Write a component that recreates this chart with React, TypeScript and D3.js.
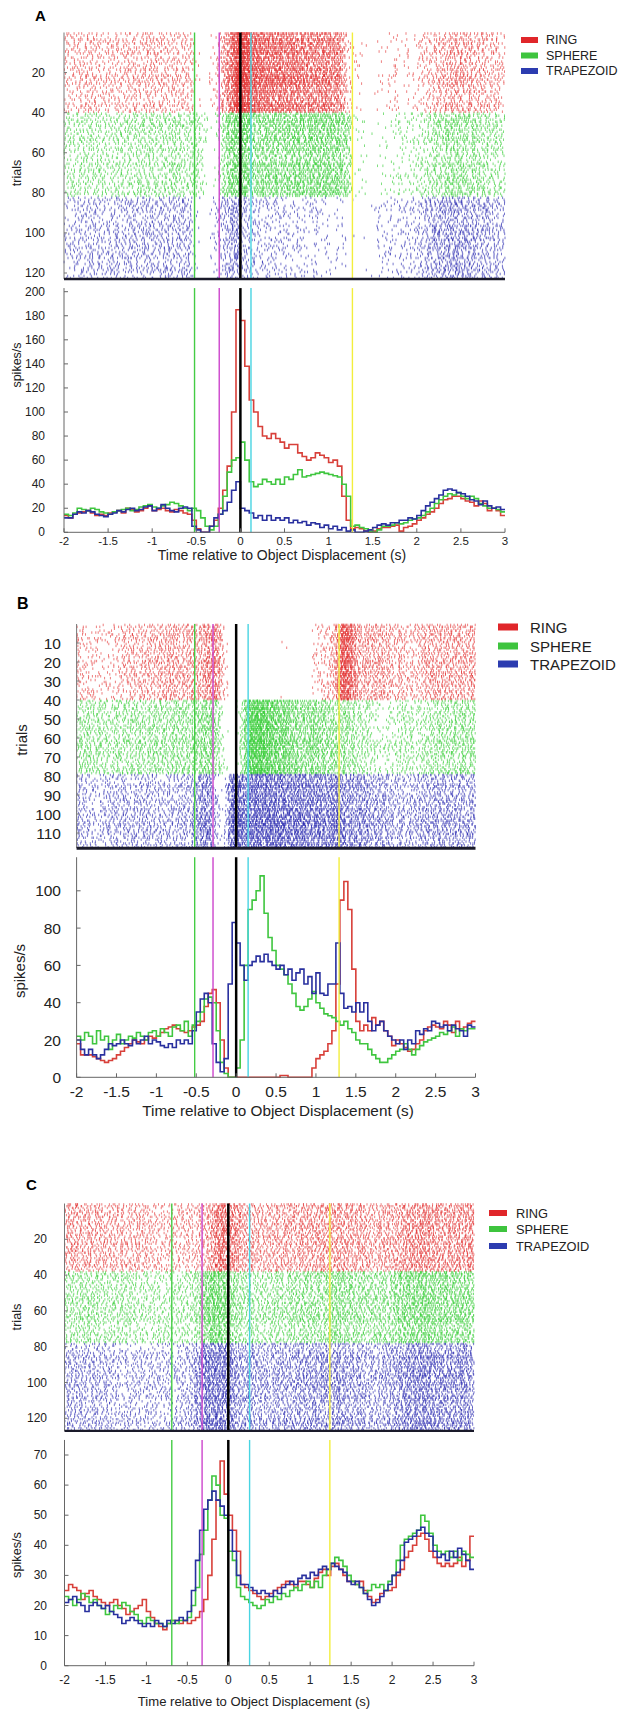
import React from 'react';
import * as d3 from 'd3';

// ---------- shared ----------
const TIME_TICKS = [-2, -1.5, -1, -0.5, 0, 0.5, 1, 1.5, 2, 2.5, 3];
const TIME_TICK_LABELS = ['-2', '-1.5', '-1', '-0.5', '0', '0.5', '1', '1.5', '2', '2.5', '3'];
const BIN_START = -2;
const BIN_WIDTH = 0.05;
const CONDITIONS = ['RING', 'SPHERE', 'TRAPEZOID'];
const X_TITLE = 'Time relative to Object Displacement (s)';

// ---------- panel A ----------
const A_TRIALS = [40, 42, 41];
const A_TRIAL_TICKS = [20, 40, 60, 80, 100, 120];
const A_RATE_TICKS = [0, 20, 40, 60, 80, 100, 120, 140, 160, 180, 200];
const A_EVENTS = [-0.52, -0.24, 0, 0.12, 1.27];
const A_RING = [14,12,15,16,17,18,16,14,15,14,16,17,18,16,20,19,17,18,20,22,18,19,20,18,17,19,18,16,15,
  10,3,0,0,5,10,20,35,55,100,185,
  176,138,110,100,88,80,78,82,78,75,70,73,73,66,63,60,62,66,64,62,58,60,55,30,
  10,3,4,3,1,0,1,3,4,4,5,6,1,4,5,7,10,12,15,17,20,24,27,28,30,30,28,26,25,22,26,24,18,20,18,14];
const A_SPHERE = [15,14,16,20,19,18,20,19,17,16,15,17,18,19,20,18,19,21,22,23,21,20,22,23,25,24,22,20,18,
  20,18,12,5,2,5,15,30,50,60,62,
  75,60,42,38,40,44,42,40,44,40,46,44,48,52,46,47,48,49,50,49,48,47,46,40,
  30,5,6,4,3,1,0,2,5,5,6,8,7,8,10,11,12,14,17,20,24,27,30,32,31,33,30,28,30,28,24,22,20,20,19,17];
const A_TRAP = [12,12,15,17,16,18,17,15,14,13,15,16,18,17,19,20,18,19,21,22,18,20,23,20,18,17,20,21,20,
  5,2,0,0,5,12,15,18,25,35,42,
  20,18,16,12,14,10,14,10,12,10,12,8,10,8,9,6,8,7,4,6,3,5,2,4,
  1,2,0,0,1,2,4,6,7,6,8,8,10,10,12,11,14,18,22,25,28,31,35,36,35,33,32,30,27,26,23,26,22,20,21,19];

// ---------- panel B ----------
const B_TRIALS = [40, 39, 39];
const B_TRIAL_TICKS = [10, 20, 30, 40, 50, 60, 70, 80, 90, 100, 110];
const B_RATE_TICKS = [0, 20, 40, 60, 80, 100];
const B_EVENTS = [-0.52, -0.29, 0, 0.15, 1.29];
const B_RING = [18,12,12,12,11,10,9,8,9,10,12,14,16,18,20,19,18,20,22,21,22,24,26,27,28,26,25,24,25,
  27,28,30,38,45,47,40,20,5,0,0,
  0,0,0,0,0,0,0,0,0,0,0,1,1,0,0,0,0,0,0,5,10,12,14,18,
  25,50,95,105,90,58,30,25,28,25,32,28,30,25,22,17,20,18,16,14,15,18,20,25,27,28,27,26,30,28,24,30,26,27,29,30];
const B_SPHERE = [22,20,24,22,18,25,20,22,15,20,23,18,20,22,21,24,22,20,24,25,22,26,24,22,27,28,25,30,22,
  28,30,35,42,43,40,25,8,2,0,0,
  5,20,60,90,95,100,108,88,75,68,60,58,55,50,45,38,36,38,42,46,40,37,34,33,
  32,30,28,30,26,24,20,18,18,15,12,10,8,8,10,12,14,15,18,15,12,15,17,19,20,21,22,24,23,25,27,22,26,25,26,26];
const B_TRAP = [20,15,12,15,12,10,12,15,18,17,18,20,18,17,20,18,20,22,18,20,19,17,16,18,16,20,18,20,18,
  25,35,42,45,40,18,8,3,10,50,83,
  72,60,52,60,62,65,62,66,62,60,58,60,55,58,52,56,58,50,54,45,56,45,44,50,
  50,72,45,37,38,35,40,35,40,30,25,28,30,25,22,20,18,20,15,20,18,25,23,26,25,30,29,27,28,25,28,26,25,22,28,27];

// ---------- panel C ----------
const C_TRIALS = [38, 40, 49];
const C_TRIAL_TICKS = [20, 40, 60, 80, 100, 120];
const C_RATE_TICKS = [0, 10, 20, 30, 40, 50, 60, 70];
const C_EVENTS = [-0.69, -0.32, 0, 0.26, 1.24];
const C_RING = [25,27,26,25,22,24,25,23,22,21,20,21,22,20,19,17,18,19,20,22,18,16,14,13,12,14,15,15,14,
  15,14,15,16,18,22,30,42,55,68,57,
  50,45,38,27,26,25,24,23,22,23,24,25,26,27,28,27,26,28,28,27,26,29,31,32,
  30,33,34,32,30,28,28,27,28,25,23,21,22,24,25,25,26,30,32,36,38,40,43,44,42,38,36,34,33,34,33,34,36,33,35,43];
const C_SPHERE = [23,22,20,22,24,23,21,22,20,19,17,18,20,19,21,20,18,17,15,14,16,15,14,14,13,14,15,14,15,
  15,16,20,26,37,45,55,63,60,50,49,
  38,35,26,23,22,21,20,19,20,22,21,23,22,24,23,25,26,25,27,28,26,28,26,30,
  32,34,36,35,33,30,28,27,26,24,25,27,26,27,25,28,30,35,40,42,43,44,45,50,48,44,40,38,37,38,36,38,35,38,37,36];
const C_TRAP = [21,22,23,21,20,18,20,21,20,19,20,18,17,16,14,15,16,15,14,13,14,13,15,14,13,15,14,15,16,
  15,18,25,35,45,52,55,58,55,53,50,
  45,38,30,27,27,26,25,24,25,24,23,25,24,26,27,28,27,29,30,29,31,30,32,33,
  32,34,33,32,31,28,27,28,26,24,22,20,21,23,25,27,30,31,35,41,42,43,45,46,44,43,38,36,37,35,38,36,39,37,35,32];

// ---------- styles ----------
const LINE_COLORS = ['#d8403a', '#3fc63f', '#29309f'];
const RASTER_COLORS = ['#e23434', '#36cc36', '#2a2ab0'];
const LEGEND_COLORS = ['#e0262a', '#3ec43e', '#2c3cb0'];
const EVENT_COLORS = ['#44cc44', '#cc44cc', '#000000', '#48d4e2', '#f2ee3c'];
const FONT = '"Liberation Sans", Arial, Helvetica, sans-serif';

function hash3(a: number, b: number, c: number) {
  let h = Math.imul(a + 1, 0x9e3779b1) ^ Math.imul(b + 7, 0x85ebca77) ^ Math.imul(c + 13, 0xc2b2ae3d);
  h = Math.imul(h ^ (h >>> 15), 0x2c1b3c6d);
  h = Math.imul(h ^ (h >>> 12), 0x297a2d39);
  h ^= h >>> 15;
  return (h >>> 0) / 4294967296;
}

function rasterPath(rates: number[], trialStart: number, nTrials: number, xs: any, ys: any, seed: number) {
  let d = '';
  for (let t = 0; t < nTrials; t++) {
    const trial = trialStart + t;
    const y0 = ys(trial), y1 = ys(trial + 1);
    const gain = 0.7 + 0.6 * hash3(seed, trial, 999);
    for (let i = 0; i < rates.length; i++) {
      const lam = rates[i] * BIN_WIDTH * gain;
      let n = Math.floor(lam);
      if (hash3(seed, trial, i * 31 + 5) < lam - n) n++;
      for (let k = 0; k < n; k++) {
        const tt = BIN_START + BIN_WIDTH * (i + hash3(seed + k + 1, trial, i));
        d += `M${xs(tt).toFixed(1)},${(y0 - 0.3).toFixed(1)}V${(y1 + 0.3).toFixed(1)}`;
      }
    }
  }
  return d;
}

function Panel({ cfg }: { cfg: any }) {
  const x = d3.scaleLinear().domain([-2, 3]).range([cfg.x0, cfg.x1]);
  const yT = d3.scaleLinear().domain(cfg.trialDomain).range(cfg.trialRange);
  const yR = d3.scaleLinear().domain(cfg.rateDomain).range(cfg.rateRange);
  const total = d3.sum(cfg.trials as number[]);
  const rTop = yT(0), rBot = yT(total);
  const pTop = yR(cfg.rateMax), pBot = yR(0);

  const offsets: number[] = [];
  let acc = 0;
  cfg.trials.forEach((n: number) => { offsets.push(acc); acc += n; });

  const line = d3.line<number>()
    .x((_, i) => x(BIN_START + i * BIN_WIDTH))
    .y((v) => yR(v))
    .curve(d3.curveStepAfter);

  return (
    <g fontFamily={FONT}>
      <text x={cfg.labelX} y={cfg.labelY} fontSize={cfg.labelSize} fontWeight="bold">{cfg.label}</text>
      {/* raster */}
      {cfg.rates.map((r: number[], c: number) => (
        <path key={'r' + c} d={rasterPath(r, offsets[c], cfg.trials[c], x, yT, cfg.seed + c * 101)}
          stroke={RASTER_COLORS[c]} strokeWidth={0.75} strokeOpacity={0.85} fill="none" />
      ))}
      <line x1={cfg.x0} x2={cfg.x0} y1={rTop} y2={rBot} stroke="#777" strokeWidth={1} />
      {cfg.trialTicks.map((t: number) => (
        <g key={'tt' + t}>
          <line x1={cfg.x0} x2={cfg.x0 + 3} y1={yT(t)} y2={yT(t)} stroke="#777" />
          <text x={cfg.tickRight} y={yT(t)} fontSize={cfg.tickFont} textAnchor="end" dominantBaseline="central" fill="#222">{t}</text>
        </g>
      ))}
      {cfg.events.map((e: number, i: number) => (
        <line key={'re' + i} x1={x(e)} x2={x(e)} y1={rTop} y2={rBot} stroke={EVENT_COLORS[i]} strokeWidth={i === 2 ? 2.5 : 1.4} />
      ))}
      <line x1={cfg.x0} x2={cfg.x1} y1={rBot} y2={rBot} stroke="#1a1a2a" strokeWidth={cfg.bottomWidth} />
      <text transform={`translate(${cfg.trialsLabel[0]},${cfg.trialsLabel[1]}) rotate(-90)`} fontSize={cfg.axisLabelSize}
        textAnchor="middle" dominantBaseline="central" fill="#222">trials</text>

      {/* legend */}
      {CONDITIONS.map((name, c) => (
        <g key={'lg' + c}>
          <rect x={cfg.legX} y={cfg.legY[c] - cfg.legH / 2} width={cfg.legW} height={cfg.legH} fill={LEGEND_COLORS[c]} />
          <text x={cfg.legTextX} y={cfg.legY[c]} fontSize={cfg.legSize} dominantBaseline="central" fill="#222">{name}</text>
        </g>
      ))}

      {/* psth */}
      {cfg.rates.map((r: number[], c: number) => (
        <path key={'p' + c} d={line([...r, r[r.length - 1]]) || ''} stroke={LINE_COLORS[c]} strokeWidth={1.6} fill="none" />
      ))}
      {cfg.events.map((e: number, i: number) => (
        <line key={'pe' + i} x1={x(e)} x2={x(e)} y1={pTop} y2={pBot} stroke={EVENT_COLORS[i]} strokeWidth={i === 2 ? 2.5 : 1.4} />
      ))}
      <line x1={cfg.x0} x2={cfg.x0} y1={pTop} y2={pBot} stroke="#666" strokeWidth={1} />
      <line x1={cfg.x0} x2={cfg.x1} y1={pBot} y2={pBot} stroke="#666" strokeWidth={1} />
      {cfg.rateTicks.map((v: number) => (
        <g key={'rt' + v}>
          <line x1={cfg.x0} x2={cfg.x0 + 4} y1={yR(v)} y2={yR(v)} stroke="#666" />
          <text x={cfg.tickRight} y={yR(v)} fontSize={cfg.tickFont} textAnchor="end" dominantBaseline="central" fill="#222">{v}</text>
        </g>
      ))}
      {TIME_TICKS.map((t, i) => (
        <g key={'xt' + i}>
          <line x1={x(t)} x2={x(t)} y1={pBot} y2={pBot - 4} stroke="#666" />
          <text x={x(t)} y={cfg.xTickBaseline} fontSize={cfg.xTickFont} textAnchor="middle" fill="#222">{TIME_TICK_LABELS[i]}</text>
        </g>
      ))}
      <text x={cfg.titleX} y={cfg.titleBaseline} fontSize={cfg.titleSize} textAnchor="middle" fill="#222">{X_TITLE}</text>
      <text transform={`translate(${cfg.spikesLabel[0]},${cfg.spikesLabel[1]}) rotate(-90)`} fontSize={cfg.axisLabelSize}
        textAnchor="middle" dominantBaseline="central" fill="#222">spikes/s</text>
    </g>
  );
}

export default function App() {
  const panels = [
    {
      label: 'A', labelX: 35, labelY: 21, labelSize: 15, seed: 11,
      x0: 64, x1: 505,
      trials: A_TRIALS, trialTicks: A_TRIAL_TICKS, trialDomain: [0, 120], trialRange: [32.5, 273],
      rates: [A_RING, A_SPHERE, A_TRAP], rateTicks: A_RATE_TICKS, rateDomain: [0, 200], rateRange: [532.3, 291.7], rateMax: 203,
      events: A_EVENTS,
      tickFont: 12, xTickFont: 11.5, tickRight: 45, xTickBaseline: 544.5, titleSize: 14, titleX: 282, titleBaseline: 560,
      trialsLabel: [17, 173], spikesLabel: [17, 365], axisLabelSize: 12.5,
      legX: 521, legW: 17, legH: 6, legTextX: 546, legY: [40, 55.5, 71], legSize: 12.5, bottomWidth: 2.5,
    },
    {
      label: 'B', labelX: 17, labelY: 609, labelSize: 16, seed: 57,
      x0: 76.6, x1: 475.5,
      trials: B_TRIALS, trialTicks: B_TRIAL_TICKS, trialDomain: [0, 110], trialRange: [624, 833],
      rates: [B_RING, B_SPHERE, B_TRAP], rateTicks: B_RATE_TICKS, rateDomain: [0, 100], rateRange: [1077.3, 890.8], rateMax: 118,
      events: B_EVENTS,
      tickFont: 15.5, xTickFont: 15.5, tickRight: 61, xTickBaseline: 1096.5, titleSize: 15.3, titleX: 278, titleBaseline: 1116,
      trialsLabel: [21, 740], spikesLabel: [19, 971], axisLabelSize: 15,
      legX: 498, legW: 20, legH: 7, legTextX: 530, legY: [627, 646, 664], legSize: 15, bottomWidth: 3,
    },
    {
      label: 'C', labelX: 26, labelY: 1190, labelSize: 15, seed: 203,
      x0: 64.5, x1: 474,
      trials: C_TRIALS, trialTicks: C_TRIAL_TICKS, trialDomain: [0, 120], trialRange: [1203.5, 1418.3],
      rates: [C_RING, C_SPHERE, C_TRAP], rateTicks: C_RATE_TICKS, rateDomain: [0, 70], rateRange: [1665.7, 1455], rateMax: 75,
      events: C_EVENTS,
      tickFont: 12, xTickFont: 12, tickRight: 47, xTickBaseline: 1684, titleSize: 13.1, titleX: 254, titleBaseline: 1706,
      trialsLabel: [17, 1317], spikesLabel: [17, 1555], axisLabelSize: 12.7,
      legX: 489, legW: 18, legH: 6, legTextX: 516, legY: [1213, 1229, 1246], legSize: 12.8, bottomWidth: 2.2,
    },
  ];
  return (
    <svg width={622} height={1711} style={{ position: 'absolute', left: 0, top: 0, background: '#fff' }}>
      <rect x={0} y={0} width={622} height={1711} fill="#fff" />
      {panels.map((p) => <Panel key={p.label} cfg={p} />)}
    </svg>
  );
}
